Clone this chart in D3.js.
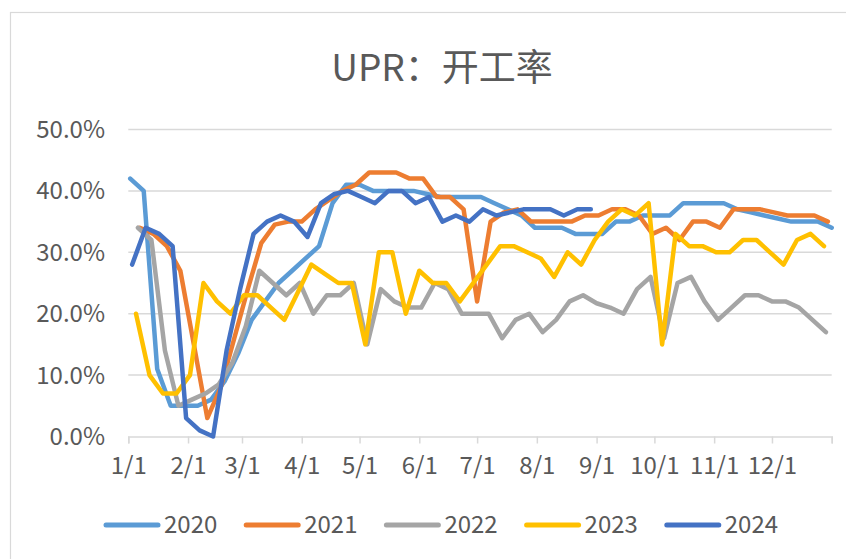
<!DOCTYPE html>
<meta charset="utf-8">
<style>
body { margin: 0; background: #fff; }
svg text { font-family: "Noto Sans CJK SC", "Noto Sans", sans-serif; fill: #595959; }
</style>
<body>
<script src="https://d3js.org/d3.v7.min.js"></script>
<script>

// series (weekly values, % )
var years = ["2020", "2021", "2022", "2023", "2024"];
var colors = ["#5B9BD5", "#ED7D31", "#A5A5A5", "#FFC000", "#4472C4"];
// day of year of the first weekly point of each series
var startDays = [1, 6, 5, 4, 2];

var v2020 = [42,40,11,5,5,5,6,9,13.5,19,22,25,27,29,31,38,41,41,40,40,40,40,39.5,39,39,39,39,38,37,36,34,34,34,33,33,33,35,35,36,36,36,38,38,38,38,37,36.5,36,35.5,35,35,35,34];
var v2021 = [34,33,31,27,15,3,8,16,24,31.5,34.5,35,35,37,38.5,40,41,43,43,43,42,42,39,39,37,22,35,36.5,37,35,35,35,35,36,36,37,37,36,33,34,32,35,35,34,37,37,37,36.5,36,36,36,35];
var v2022 = [34,32,14,5,6,7,8.5,12,18,27,25,23,25,20,23,23,25,15,24,22,21,21,25,24,20,20,20,16,19,20,17,19,22,23,21.7,21,20,24,26,16,25,26,22,19,21,23,23,22,22,21,19,17];
var v2023 = [20,10,7,7,10,25,22,20,23,23,21,19,23.5,28,26.5,25,25,15,30,30,20,27,25,25,22,25,28,31,31,30,29,26,30,28,32,35,37,36,38,15,33,31,31,30,30,32,32,30,28,32,33,31];
var v2024 = [28,34,33,31,3,1,0,14,24,33,35,36,35,32.5,38,39.5,40,39,38,40,40,38,39,35,36,35,37,36,36.5,37,37,37,36,37,37];
var seriesValues = [v2020, v2021, v2022, v2023, v2024];

// axis ticks
var monthDays = [0, 31, 59, 90, 120, 151, 181, 212, 243, 273, 304, 334];
var monthLabels = ["1/1","2/1","3/1","4/1","5/1","6/1","7/1","8/1","9/1","10/1","11/1","12/1"];
var yTicks = [0, 10, 20, 30, 40, 50];

var W = 846, H = 559;

var x = d3.scaleLinear().domain([0, 365]).range([128.3, 831.7]);
var y = d3.scaleLinear().domain([0, 50]).range([436.5, 129.5]);

var svg = d3.select("body").append("svg")
    .attr("width", W)
    .attr("height", H);

// chart frame (only top / left visible)
svg.append("rect")
    .attr("x", 10.5).attr("y", 12.5)
    .attr("width", W + 20).attr("height", H + 20)
    .attr("fill", "#fff")
    .attr("stroke", "#D9D9D9")
    .attr("stroke-width", 1.2);

// title
svg.append("text")
    .attr("x", 442)
    .attr("y", 81)
    .attr("text-anchor", "middle")
    .style("font-size", "37px")
    .text("UPR：开工率");

// grid
svg.append("g")
  .selectAll("line")
  .data(yTicks.slice(1))
  .enter().append("line")
    .attr("x1", x(0)).attr("x2", x(365))
    .attr("y1", function(d) { return y(d); })
    .attr("y2", function(d) { return y(d); })
    .attr("stroke", "#D9D9D9")
    .attr("stroke-width", 1.5);

// y labels
svg.append("g")
  .selectAll("text")
  .data(yTicks)
  .enter().append("text")
    .attr("x", 105)
    .attr("y", function(d) { return y(d); })
    .attr("dy", "0.35em")
    .attr("text-anchor", "end")
    .style("font-size", "24px")
    .text(function(d) { return d.toFixed(1) + "%"; });

// x axis
var xAxis = d3.axisBottom(x)
    .tickValues(monthDays.concat([365]))
    .tickSize(7)
    .tickFormat(function(d, i) { return monthLabels[i] || ""; });

var gx = svg.append("g")
    .attr("transform", "translate(0," + y(0) + ")")
    .call(xAxis);
gx.select(".domain").attr("stroke", "#D9D9D9").attr("stroke-width", 1.5);
gx.selectAll(".tick line").attr("stroke", "#D9D9D9").attr("stroke-width", 1.5);
gx.selectAll(".tick text")
    .attr("y", 20)
    .attr("dy", "0.71em")
    .attr("fill", "#595959")
    .style("font-size", "24px")
    .style("font-family", "\"Noto Sans CJK SC\", sans-serif");

// lines
var line = d3.line()
    .x(function(d) { return x(d.day); })
    .y(function(d) { return y(d.value); });

seriesValues.forEach(function(vals, k) {
  var pts = vals.map(function(v, i) { return {day: startDays[k] + 7 * i, value: v}; });
  svg.append("path")
      .datum(pts)
      .attr("fill", "none")
      .attr("stroke", colors[k])
      .attr("stroke-width", 4.5)
      .attr("stroke-linejoin", "round")
      .attr("stroke-linecap", "round")
      .attr("d", line);
});

// legend
var legend = svg.append("g")
  .selectAll("g")
  .data(years)
  .enter().append("g")
    .attr("transform", function(d, i) { return "translate(" + (106 + i * 140.2) + ",525)"; });

legend.append("line")
    .attr("x1", 0).attr("x2", 52)
    .attr("stroke", function(d, i) { return colors[i]; })
    .attr("stroke-width", 5)
    .attr("stroke-linecap", "round");

legend.append("text")
    .attr("x", 58)
    .attr("dy", "0.35em")
    .style("font-size", "24px")
    .text(function(d) { return d; });

</script>
</body>
